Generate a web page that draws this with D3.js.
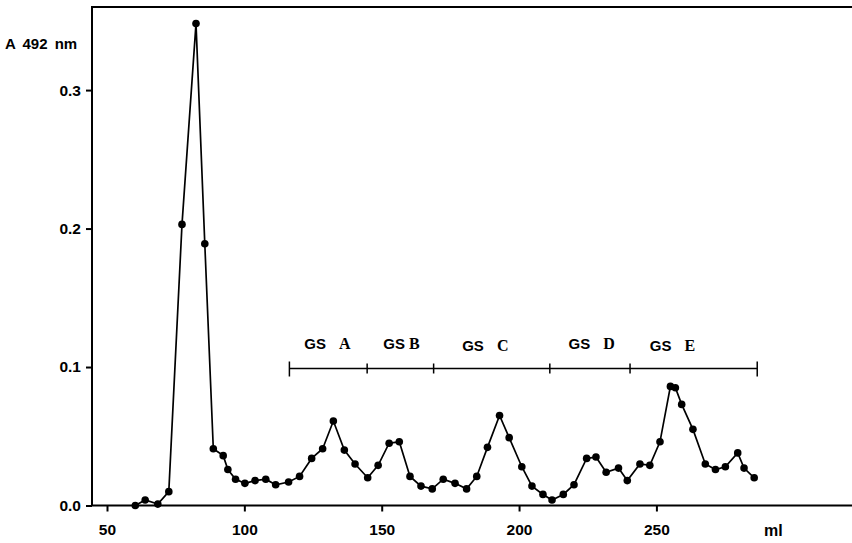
<!DOCTYPE html>
<html>
<head>
  <meta charset="utf-8">
  <title>A 492 nm elution profile</title>
  <script src="https://cdn.jsdelivr.net/npm/d3@7"></script>
  <style type="text/css">
  html, body {
    margin: 0;
    background-color: #fff;
  }
  .frame {
    stroke: #000;
    stroke-width: 2px;
    fill: none;
  }
  .axis text {
    font-family: "Liberation Sans", Arial, sans-serif;
    font-weight: bold;
    font-size: 15.5px;
    fill: #000;
  }
  .axis line {
    stroke: #000;
    stroke-width: 2px;
  }
  .trace {
    fill: none;
    stroke: #000;
    stroke-width: 1.7px;
  }
  .dot {
    fill: #000;
  }
  .fraction {
    stroke: #000;
    stroke-width: 1.5px;
  }
  .gs {
    font-family: "Liberation Sans", Arial, sans-serif;
    font-weight: bold;
    font-size: 15px;
  }
  .gs .letter {
    font-family: "Liberation Serif", "Times New Roman", serif;
    font-size: 16px;
  }
  </style>
</head>

<body>
  <div id="chart"></div>
</body>

<script>
var width = 852,
    height = 543;

// elution volume (ml) and absorbance at 492 nm
var volume = [
  60.3, 63.9, 68.5, 72.5, 77.3, 82.4, 85.6, 88.7, 92.3, 94.0,
  96.8, 100.2, 103.9, 107.8, 111.4, 116.1, 120.1, 124.5, 128.5, 132.4,
  136.4, 140.3, 144.9, 148.7, 152.7, 156.4, 160.3, 164.3, 168.4, 172.4,
  176.7, 180.9, 184.6, 188.5, 192.9, 196.4, 201.0, 204.7, 208.7, 212.0,
  216.1, 220.0, 224.6, 228.0, 231.7, 236.2, 239.4, 244.0, 247.6, 251.3,
  255.1, 256.9, 259.2, 263.3, 267.8, 271.5, 275.1, 279.6, 281.9, 285.6
];
var absorbance = [
  0.000, 0.004, 0.001, 0.010, 0.203, 0.348, 0.189, 0.041, 0.036, 0.026,
  0.019, 0.016, 0.018, 0.019, 0.015, 0.017, 0.021, 0.034, 0.041, 0.061,
  0.040, 0.030, 0.020, 0.029, 0.045, 0.046, 0.021, 0.014, 0.012, 0.019,
  0.016, 0.012, 0.021, 0.042, 0.065, 0.049, 0.028, 0.014, 0.008, 0.004,
  0.008, 0.015, 0.034, 0.035, 0.024, 0.027, 0.018, 0.030, 0.029, 0.046,
  0.086, 0.085, 0.073, 0.055, 0.030, 0.026, 0.028, 0.038, 0.027, 0.020
];

// pooled fractions: bar boundaries (ml) and their names
var poolEdges = [116.4, 144.7, 168.9, 211.2, 240.4, 286.7];
var poolNames = ["A", "B", "C", "D", "E"];
// where each name starts (ml), the labels are not centred on the bar
var poolLabelAt = [121.8, 150.6, 179.3, 218.0, 247.6];

var xTicks = [50, 100, 150, 200, 250];
var yTicks = [0.0, 0.1, 0.2, 0.3];

var svg = d3.select("#chart").append("svg")
            .attr("width", width)
            .attr("height", height);

var x = d3.scaleLinear()
          .domain([44.54, 321.2])
          .range([92, 852]);

var y = d3.scaleLinear()
          .domain([0, 0.36])
          .range([505.5, 7]);

// axes
svg.append("g")
   .attr("class", "axis")
   .attr("transform", "translate(" + x.range()[0] + ",0)")
   .call(d3.axisLeft(y)
           .tickValues(yTicks)
           .tickFormat(d3.format(".1f"))
           .tickSize(6)
           .tickPadding(5))
   .call(function(g) { g.select(".domain").remove(); });

svg.append("g")
   .attr("class", "axis")
   .attr("transform", "translate(0," + y(0) + ")")
   .call(d3.axisBottom(x)
           .tickValues(xTicks)
           .tickSize(6)
           .tickPadding(12))
   .call(function(g) { g.select(".domain").remove(); });

// frame: left, bottom and top, open on the right
svg.append("path")
   .attr("class", "frame")
   .attr("d", "M" + x.range()[1] + "," + y.range()[1] +
              "H" + x.range()[0] +
              "V" + y.range()[0] +
              "H" + x.range()[1]);

// axis titles
svg.append("text")
   .attr("class", "gs")
   .attr("x", 5)
   .attr("y", 49)
   .style("font-size", "15px")
   .style("word-spacing", "3px")
   .text("A 492 nm");

svg.append("text")
   .attr("class", "gs")
   .attr("x", 764)
   .attr("y", 536)
   .style("font-size", "16px")
   .text("ml");

// trace
var pts = volume.map(function(v, i) { return [v, absorbance[i]]; });

var line = d3.line()
             .x(function(d) { return x(d[0]); })
             .y(function(d) { return y(d[1]); });

svg.append("path")
   .datum(pts)
   .attr("class", "trace")
   .attr("d", line);

svg.append("g").selectAll("circle")
   .data(pts)
   .enter().append("circle")
   .attr("class", "dot")
   .attr("cx", function(d) { return x(d[0]); })
   .attr("cy", function(d) { return y(d[1]); })
   .attr("r", 3.8);

// fraction bar
var barY = 368.5;
var bar = svg.append("g");

bar.append("line")
   .attr("class", "fraction")
   .attr("x1", x(poolEdges[0]))
   .attr("x2", x(poolEdges[poolEdges.length - 1]))
   .attr("y1", barY)
   .attr("y2", barY);

bar.selectAll(".edge")
   .data(poolEdges)
   .enter().append("line")
   .attr("class", "fraction edge")
   .attr("x1", function(d) { return x(d); })
   .attr("x2", function(d) { return x(d); })
   .attr("y1", function(d, i) {
     return (i == 0 || i == poolEdges.length - 1) ? barY - 7 : barY - 5;
   })
   .attr("y2", function(d, i) {
     return (i == 0 || i == poolEdges.length - 1) ? barY + 8 : barY + 5;
   });

var labels = bar.selectAll(".gs")
                .data(poolNames)
                .enter().append("text")
                .attr("class", "gs")
                .attr("x", function(d, i) { return x(poolLabelAt[i]); })
                .attr("y", function(d, i) { return (i == 2 || i == 4) ? 351 : 349; })
                .attr("xml:space", "preserve");

labels.append("tspan").text("GS");
labels.append("tspan")
      .attr("class", "letter")
      .attr("dx", function(d, i) { return i == 1 ? 4 : 13; })
      .text(function(d) { return d; });
</script>
</html>
